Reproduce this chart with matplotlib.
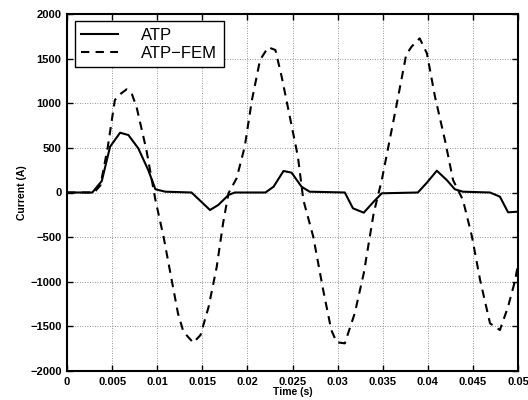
import matplotlib
matplotlib.use('Agg')
import matplotlib.pyplot as plt

# ATP (solid)
atpT = [0, 0.0028, 0.00385, 0.00477, 0.00588, 0.0068, 0.0079, 0.009, 0.0098, 0.0109,
        0.0138, 0.01585, 0.01677, 0.0179, 0.0186, 0.022, 0.0229, 0.024, 0.0249, 0.026,
        0.0269, 0.0308, 0.0317, 0.0329, 0.034, 0.0349, 0.0389, 0.0399, 0.041, 0.0421,
        0.043, 0.0439, 0.0469, 0.048, 0.0489, 0.05]
atpI = [0, 0, 129, 513, 670, 644, 495, 252, 36, 9,
        0, -196, -140, -28, 0, 0, 65, 241, 222, 65,
        9, 0, -177, -226, -103, -9, 0, 110, 244, 140,
        36, 9, 0, -47, -222, -215]

# ATP-FEM (dashed)
femT = [0, 0.003, 0.0037, 0.0045, 0.0053, 0.006, 0.0066, 0.0072, 0.0077, 0.0088,
        0.0098, 0.0107, 0.0116, 0.0123, 0.0129, 0.014, 0.0148, 0.0157, 0.0166, 0.0173,
        0.0179, 0.0188, 0.0197, 0.0205, 0.0214, 0.0223, 0.0231, 0.0238, 0.0247, 0.0256,
        0.0262, 0.0273, 0.0284, 0.0293, 0.0299, 0.0308, 0.0319, 0.0329, 0.034, 0.0349,
        0.0365, 0.0376, 0.0382, 0.0391, 0.0399, 0.0408, 0.0419, 0.0428, 0.0439, 0.0449,
        0.0458, 0.0469, 0.048, 0.0489, 0.0497, 0.05]
femI = [0, 0, 80, 500, 1036, 1110, 1156, 1100, 961, 476,
        -84, -495, -980, -1354, -1560, -1683, -1597, -1280, -831, -345,
        -9, 159, 513, 1036, 1485, 1627, 1597, 1297, 849, 401,
        -84, -495, -1092, -1541, -1678, -1690, -1354, -905, -233, 140,
        961, 1541, 1634, 1727, 1560, 1073, 588, 140, -84, -495,
        -980, -1466, -1541, -1280, -980, -800]

xticks = [0, 0.005, 0.01, 0.015, 0.02, 0.025, 0.03, 0.035, 0.04, 0.045, 0.05]
xlabels = ['0', '0.005', '0.01', '0.015', '0.02', '0.025', '0.03', '0.035', '0.04', '0.045', '0.05']
yticks = list(range(-2000, 2001, 500))

plt.rcParams['font.family'] = ['Liberation Sans', 'DejaVu Sans']

fig = plt.figure(figsize=(5.28, 4.0), dpi=100)
ax = fig.add_axes([0.127, 0.0725, 0.854, 0.8925])

ax.plot(atpT, atpI, 'k-', linewidth=1.5, label='ATP')
ax.plot(femT, femI, 'k--', linewidth=1.5, dashes=(4, 3), label='ATP\u2212FEM')

ax.set_xlim(0, 0.05)
ax.set_ylim(-2000, 2000)
ax.set_xticks(xticks)
ax.set_xticklabels(xlabels)
ax.set_yticks(yticks)
ax.grid(True, linestyle=(0, (1, 2)), color='0.45', linewidth=0.6)
ax.tick_params(direction='in', top=True, right=True, length=4, width=1, labelsize=8, pad=4)
for lab in ax.get_xticklabels() + ax.get_yticklabels():
    lab.set_fontweight('bold')
for s in ax.spines.values():
    s.set_linewidth(1.5)

ax.set_xlabel('Time (s)', fontsize=7.5, fontweight='bold', labelpad=0.5)
ax.set_ylabel('Current (A)', fontsize=7.5, fontweight='bold', labelpad=2)

leg = ax.legend(loc='upper left', fontsize=12, handlelength=2.2, fancybox=False,
                edgecolor='k', framealpha=1, borderpad=0.4, labelspacing=0.15,
                handletextpad=1.4, borderaxespad=0.45)
leg.get_frame().set_linewidth(1.0)

fig.savefig('out.png', dpi=100)
